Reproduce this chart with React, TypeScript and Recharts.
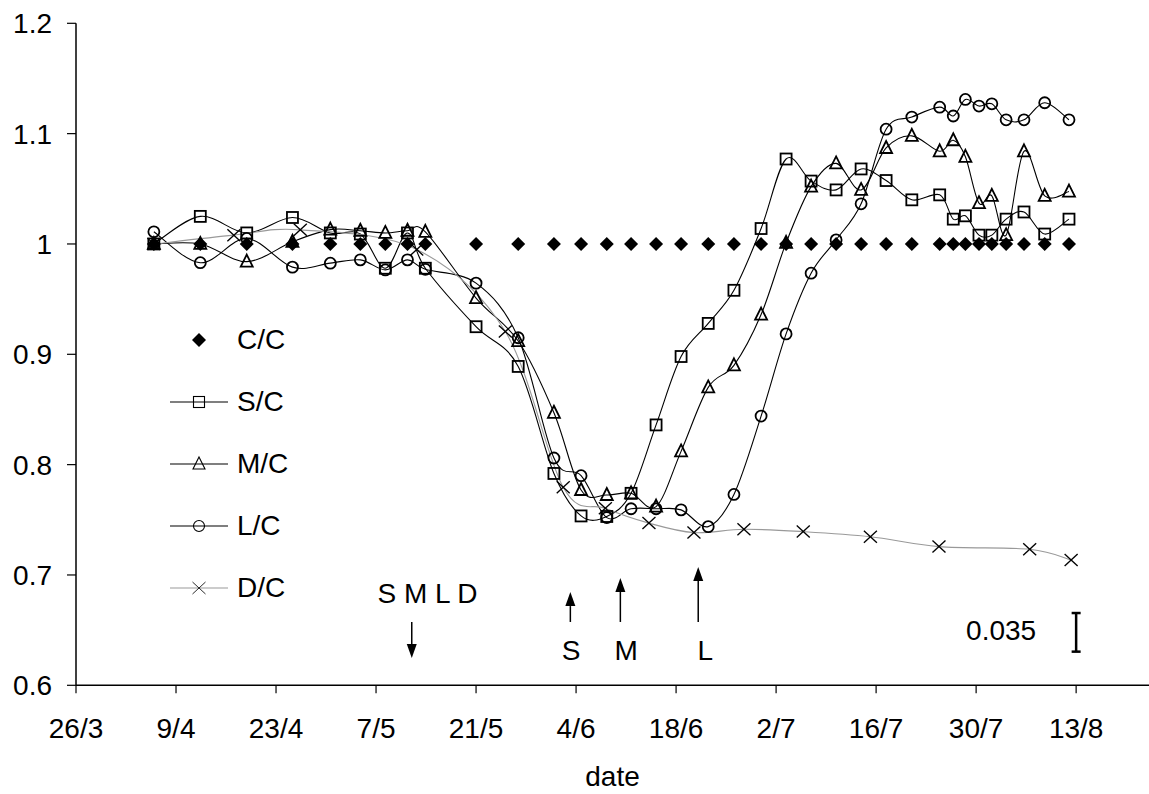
import { LineChart, Line, XAxis, YAxis, Legend, ReferenceLine, ReferenceDot } from "recharts";

const FONT = '"Liberation Sans", Arial, sans-serif';

// x values are days counted from 26/3
const tickDays = [0, 14, 28, 42, 56, 70, 84, 98, 112, 126, 140];
const tickLabels = ["26/3", "9/4", "23/4", "7/5", "21/5", "4/6", "18/6", "2/7", "16/7", "30/7", "13/8"];
const yTicks = [0.6, 0.7, 0.8, 0.9, 1.0, 1.1, 1.2];
const yTickLabels = ["0.6", "0.7", "0.8", "0.9", "1", "1.1", "1.2"];

const sampleDays = [
  10.9, 17.4, 23.9, 30.3, 35.6, 39.8, 43.3, 46.4, 48.9, 56.0, 61.9, 66.9, 70.7, 74.3, 77.7, 81.2, 84.7, 88.5,
  92.1, 95.9, 99.4, 102.9, 106.4, 109.9, 113.4, 117.0, 120.9, 122.8, 124.5, 126.4, 128.2, 130.2, 132.7, 135.6, 139.0,
];
const ccValues = [
  1, 1, 1, 1, 1, 1, 1, 1, 1, 1, 1, 1, 1, 1, 1, 1, 1, 1, 1, 1, 1, 1, 1, 1, 1, 1, 1, 1, 1, 1, 1, 1, 1, 1, 1,
];
const scValues = [
  1.0, 1.025, 1.01, 1.024, 1.01, 1.009, 0.978, 1.01, 0.978, 0.925, 0.889, 0.792, 0.7535, 0.753, 0.774, 0.836, 0.898,
  0.928, 0.958, 1.014, 1.077, 1.057, 1.049, 1.068, 1.0575, 1.04, 1.0445, 1.0225, 1.0255, 1.008, 1.008, 1.0225, 1.029,
  1.009, 1.0225,
];
const mcValues = [
  1.0, 1.0, 0.984, 1.002, 1.013, 1.012, 1.01, 1.012, 1.011, 0.951, 0.912, 0.847, 0.777, 0.7725, 0.774, 0.762, 0.812,
  0.87, 0.89, 0.936, 1.001, 1.052, 1.073, 1.049, 1.087, 1.098, 1.084, 1.094, 1.079, 1.037, 1.0436, 1.008, 1.084,
  1.0436, 1.0475,
];
const lcValues = [
  1.011, 0.983, 1.005, 0.979, 0.9826, 0.9856, 0.9765, 0.9856, 0.977, 0.9645, 0.915, 0.806, 0.79, 0.752, 0.76, 0.76,
  0.759, 0.7438, 0.773, 0.844, 0.9185, 0.9735, 1.0037, 1.0364, 1.104, 1.115, 1.124, 1.116, 1.131, 1.125, 1.127,
  1.1125, 1.1125, 1.128, 1.1125,
];
const dcDays = [10.9, 22.1, 31.4, 47.7, 60.1, 68.2, 74.1, 80.2, 86.5, 93.5, 101.8, 111.2, 120.8, 133.5, 139.3];
const dcValues = [
  1.0, 1.008, 1.0128, 0.995, 0.9206, 0.7795, 0.7605, 0.747, 0.7384, 0.7414, 0.7393, 0.7347, 0.7257, 0.7233, 0.7136,
];

// annotations in data units
const noteTexts = [
  { day: 49.2, value: 0.6837, text: "S M L D" },
  { day: 69.3, value: 0.632, text: "S" },
  { day: 77.0, value: 0.632, text: "M" },
  { day: 88.1, value: 0.632, text: "L" },
  { day: 129.5, value: 0.65, text: "0.035" },
];
const noteArrows = [
  { day: 47.0, from: 0.6574, to: 0.6248 },
  { day: 69.2, from: 0.6574, to: 0.6845 },
  { day: 76.2, from: 0.6574, to: 0.6973 },
  { day: 87.1, from: 0.6574, to: 0.7072 },
];
const scaleBar = { day: 140, from: 0.6305, to: 0.6655 };

const mainData = sampleDays.map((day, i) => ({
  day,
  cc: ccValues[i],
  sc: scValues[i],
  mc: mcValues[i],
  lc: lcValues[i],
}));
const dcData = dcDays.map((day, i) => ({ day, dc: dcValues[i] }));

type MarkerKind = "diamond" | "square" | "triangle" | "circle" | "cross";

const series: { key: string; name: string; marker: MarkerKind; stroke: string }[] = [
  { key: "cc", name: "C/C", marker: "diamond", stroke: "none" },
  { key: "sc", name: "S/C", marker: "square", stroke: "#000" },
  { key: "mc", name: "M/C", marker: "triangle", stroke: "#000" },
  { key: "lc", name: "L/C", marker: "circle", stroke: "#000" },
  { key: "dc", name: "D/C", marker: "cross", stroke: "#999" },
];

// Excel-like smoothed line (Catmull-Rom through the points)
function smoothCurve(context: any) {
  let pts: number[][] = [];
  return {
    areaStart() {},
    areaEnd() {},
    lineStart() {
      pts = [];
    },
    point(x: number, y: number) {
      pts.push([+x, +y]);
    },
    lineEnd() {
      const n = pts.length;
      if (!n) return;
      context.moveTo(pts[0][0], pts[0][1]);
      for (let i = 0; i < n - 1; i++) {
        const p0 = pts[Math.max(i - 1, 0)];
        const p1 = pts[i];
        const p2 = pts[i + 1];
        const p3 = pts[Math.min(i + 2, n - 1)];
        context.bezierCurveTo(
          p1[0] + (p2[0] - p0[0]) / 6,
          p1[1] + (p2[1] - p0[1]) / 6,
          p2[0] - (p3[0] - p1[0]) / 6,
          p2[1] - (p3[1] - p1[1]) / 6,
          p2[0],
          p2[1]
        );
      }
    },
  };
}

function Marker({ cx, cy, kind, sw = 1.8 }: { cx: number; cy: number; kind: MarkerKind; sw?: number }) {
  if (cx == null || cy == null) return null;
  switch (kind) {
    case "diamond":
      return <polygon points={`${cx},${cy - 7} ${cx + 7},${cy} ${cx},${cy + 7} ${cx - 7},${cy}`} fill="#000" />;
    case "square":
      return <rect x={cx - 5.5} y={cy - 5.5} width={11} height={11} fill="none" stroke="#000" strokeWidth={sw} />;
    case "triangle":
      return (
        <polygon
          points={`${cx},${cy - 7} ${cx + 6},${cy + 5} ${cx - 6},${cy + 5}`}
          fill="none"
          stroke="#000"
          strokeWidth={sw}
          strokeLinejoin="miter"
        />
      );
    case "circle":
      return <circle cx={cx} cy={cy} r={5.5} fill="none" stroke="#000" strokeWidth={sw} />;
    default:
      return (
        <g stroke="#000" strokeWidth={sw * 0.75}>
          <line x1={cx - 6.5} y1={cy - 6} x2={cx + 6.5} y2={cy + 6} />
          <line x1={cx - 6.5} y1={cy + 6} x2={cx + 6.5} y2={cy - 6} />
        </g>
      );
  }
}

const ArrowShape = (p: any) => {
  const { x1, y1, x2, y2 } = p;
  const dir = y2 > y1 ? 1 : -1;
  const head = 14;
  return (
    <g>
      <line x1={x1} y1={y1} x2={x2} y2={y2 - dir * head} stroke="#000" strokeWidth={1.5} />
      <polygon points={`${x2},${y2} ${x2 - 5},${y2 - dir * head} ${x2 + 5},${y2 - dir * head}`} fill="#000" />
    </g>
  );
};

const ScaleBarShape = (p: any) => {
  const { x1, y1, y2 } = p;
  return (
    <g stroke="#000" strokeWidth={2.5}>
      <line x1={x1} y1={y1} x2={x1} y2={y2} />
      <line x1={x1 - 4.5} y1={y1} x2={x1 + 4.5} y2={y1} />
      <line x1={x1 - 4.5} y1={y2} x2={x1 + 4.5} y2={y2} />
    </g>
  );
};

function LegendContent(props: any) {
  const shown = new Set((props.payload || []).map((e: any) => e.value));
  const items = series.filter((s) => shown.has(s.name));
  return (
    <div style={{ fontFamily: FONT, fontSize: 28, color: "#000" }}>
      {items.map((s) => (
        <div key={s.key} style={{ height: 62, display: "flex", alignItems: "center" }}>
          <svg width={58} height={20} style={{ display: "block" }}>
            {s.stroke !== "none" && <line x1={0} y1={10} x2={58} y2={10} stroke={s.stroke} strokeWidth={1.2} />}
            <Marker cx={29} cy={10} kind={s.marker} sw={1.1} />
          </svg>
          <span style={{ marginLeft: 9 }}>{s.name}</span>
        </div>
      ))}
    </div>
  );
}

export default function App() {
  return (
    <div style={{ position: "absolute", left: 0, top: 0, width: 1149, height: 794, overflow: "hidden", background: "#fff" }}>
      <LineChart
        width={1149}
        height={794}
        data={mainData}
        margin={{ top: 23.3, right: 0, bottom: 7.7, left: 0 }}
        style={{ fontFamily: FONT }}
      >
        <XAxis
          type="number"
          dataKey="day"
          domain={[0, 150.2]}
          ticks={tickDays}
          tickFormatter={(v: number) => tickLabels[tickDays.indexOf(v)] ?? ""}
          allowDataOverflow
          height={101}
          tickSize={8}
          tickMargin={25}
          axisLine={{ stroke: "#000", strokeWidth: 1.5 }}
          tickLine={{ stroke: "#000", strokeWidth: 1.2 }}
          tick={{ fill: "#000", fontSize: 28, fontFamily: FONT }}
          label={{ value: "date", position: "insideBottom", offset: 0, fontSize: 28, fill: "#000", fontFamily: FONT }}
        />
        <YAxis
          type="number"
          domain={[0.6, 1.2]}
          ticks={yTicks}
          tickFormatter={(_v: number, i: number) => yTickLabels[i]}
          allowDataOverflow
          width={76}
          tickSize={9}
          tickMargin={15}
          axisLine={{ stroke: "#000", strokeWidth: 1.5 }}
          tickLine={{ stroke: "#000", strokeWidth: 1.2 }}
          tick={{ fill: "#000", fontSize: 28, fontFamily: FONT }}
        />
        <Legend
          layout="vertical"
          align="center"
          verticalAlign="middle"
          content={<LegendContent />}
          wrapperStyle={{ left: 170, top: 309, width: "auto", height: "auto" }}
        />
        {series.map((s) => (
          <Line
            key={s.key}
            dataKey={s.key}
            name={s.name}
            data={s.key === "dc" ? dcData : undefined}
            type={smoothCurve as any}
            stroke={s.stroke}
            strokeWidth={1.1}
            dot={(p: any) => <Marker key={`${s.key}-${p.index}`} cx={p.cx} cy={p.cy} kind={s.marker} />}
            activeDot={false}
            isAnimationActive={false}
          />
        ))}
        {noteArrows.map((a, i) => (
          <ReferenceLine
            key={`arrow-${i}`}
            segment={[
              { x: a.day, y: a.from },
              { x: a.day, y: a.to },
            ]}
            shape={ArrowShape}
          />
        ))}
        <ReferenceLine
          segment={[
            { x: scaleBar.day, y: scaleBar.to },
            { x: scaleBar.day, y: scaleBar.from },
          ]}
          shape={ScaleBarShape}
        />
        {noteTexts.map((t, i) => (
          <ReferenceDot
            key={`note-${i}`}
            x={t.day}
            y={t.value}
            r={1}
            shape={(p: any) => (
              <text x={p.cx} y={p.cy} dy="0.355em" textAnchor="middle" fontSize={28} fontFamily={FONT} fill="#000">
                {t.text}
              </text>
            )}
          />
        ))}
      </LineChart>
    </div>
  );
}
